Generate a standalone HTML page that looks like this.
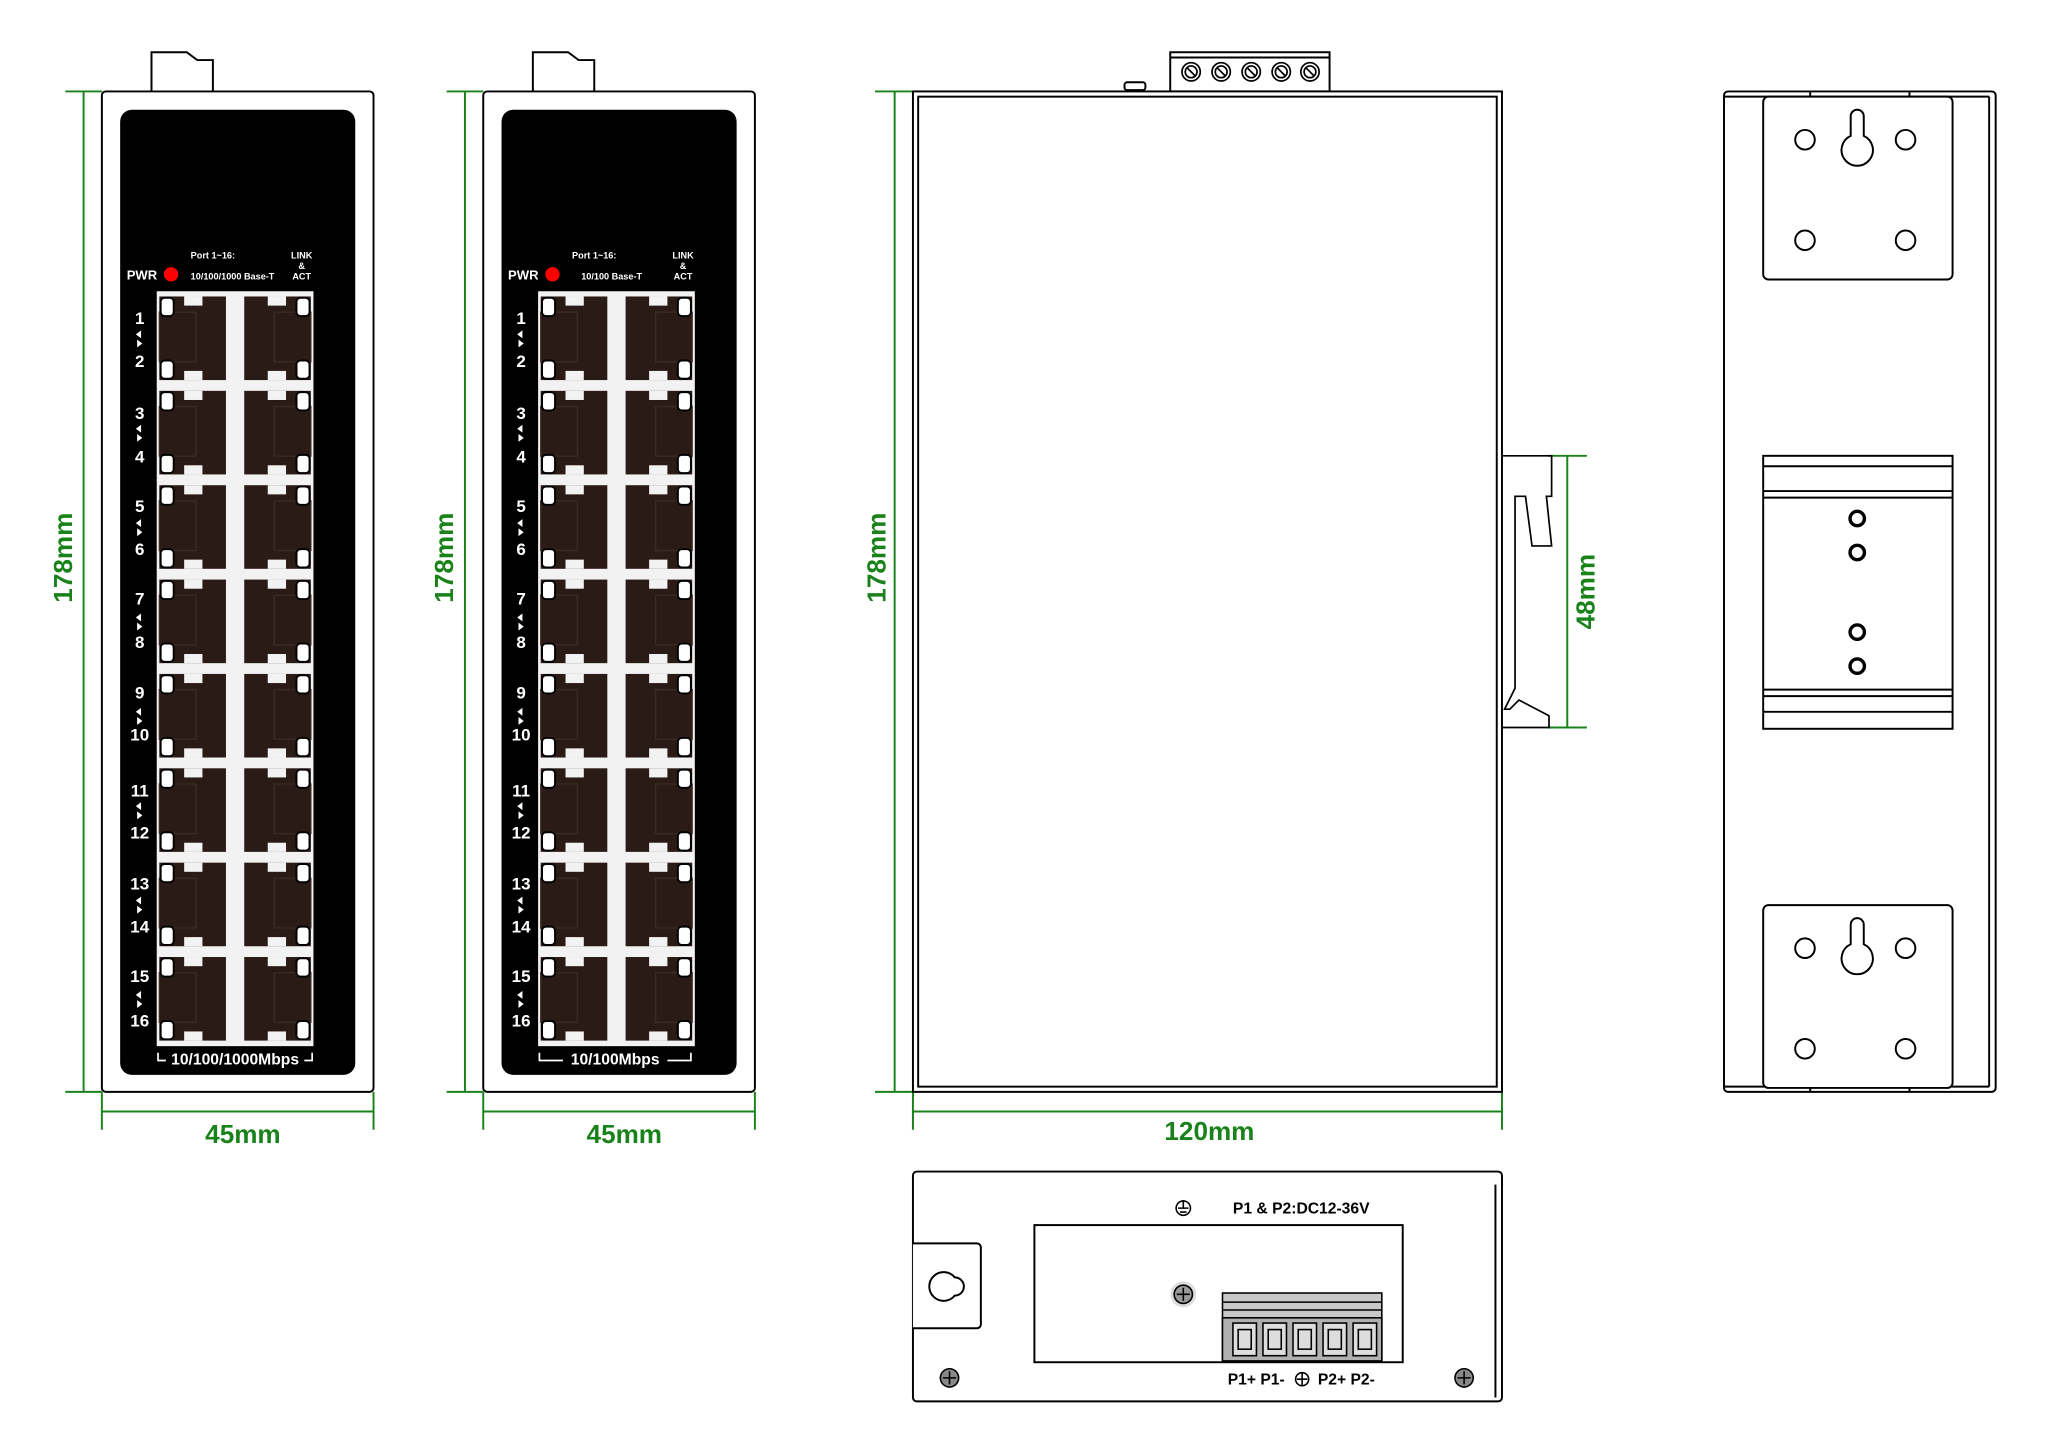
<!DOCTYPE html>
<html><head><meta charset="utf-8"><style>
html,body{margin:0;padding:0;background:#fff}
svg{display:block}
text{font-family:"Liberation Sans",Arial,sans-serif}
</style></head><body>
<svg width="2048" height="1453" viewBox="0 0 1568 1112.5" preserveAspectRatio="xMinYMin meet" xmlns="http://www.w3.org/2000/svg">
<defs>
<g id="row">
  <rect x="122" y="4" width="51" height="64" fill="#2b1b16"/>
  <rect x="187" y="4" width="51" height="64" fill="#2b1b16"/>
  <rect x="141" y="4" width="14" height="7" fill="#f2f2f2"/>
  <rect x="141" y="61" width="14" height="7" fill="#f2f2f2"/>
  <rect x="205" y="4" width="14" height="7" fill="#f2f2f2"/>
  <rect x="205" y="61" width="14" height="7" fill="#f2f2f2"/>
  <rect x="122" y="16" width="28" height="38" fill="none" stroke="#3d2c26" stroke-width="1"/>
  <rect x="210" y="16" width="28" height="38" fill="none" stroke="#3d2c26" stroke-width="1"/>
  <rect x="123" y="5" width="10" height="14" rx="3" fill="#fff" stroke="#000" stroke-width="1.5"/>
  <rect x="123" y="53" width="10" height="14" rx="3" fill="#fff" stroke="#000" stroke-width="1.5"/>
  <rect x="227" y="5" width="10" height="14" rx="3" fill="#fff" stroke="#000" stroke-width="1.5"/>
  <rect x="227" y="53" width="10" height="14" rx="3" fill="#fff" stroke="#000" stroke-width="1.5"/>
  <path d="M108 30 L104 33 L108 36Z M105 37 L109 40 L105 43Z" fill="#fff"/>
</g>
<g id="panel">
  <path d="M116 70 V40 H143 L151 46 H163 V70" fill="#fff" stroke="#000" stroke-width="1.5"/>
  <rect x="78" y="70" width="208" height="766" rx="3" fill="#fff" stroke="#000" stroke-width="1.5"/>
  <rect x="92" y="84" width="180" height="739" rx="9" fill="#000"/>
  <rect x="120" y="223" width="120" height="578" fill="#f2f2f2"/>
  <circle cx="131" cy="210" r="5.5" fill="#f00"/>
  <text x="97" y="214" font-size="10" font-weight="bold" fill="#fff">PWR</text>
  <text x="146" y="198" font-size="7" font-weight="bold" fill="#fff">Port 1~16:</text>
  <text x="231" y="198" font-size="7" font-weight="bold" fill="#fff" text-anchor="middle">LINK</text>
  <text x="231" y="206" font-size="7" font-weight="bold" fill="#fff" text-anchor="middle">&amp;</text>
  <text x="231" y="214" font-size="7" font-weight="bold" fill="#fff" text-anchor="middle">ACT</text>
  <use href="#row" y="223"/>
  <use href="#row" y="295.25"/>
  <use href="#row" y="367.5"/>
  <use href="#row" y="439.75"/>
  <use href="#row" y="512"/>
  <use href="#row" y="584.25"/>
  <use href="#row" y="656.5"/>
  <use href="#row" y="728.75"/>
  <g font-size="13" font-weight="bold" fill="#fff" text-anchor="middle">
    <text x="107" y="248">1</text><text x="107" y="281">2</text>
    <text x="107" y="321">3</text><text x="107" y="354">4</text>
    <text x="107" y="392">5</text><text x="107" y="425">6</text>
    <text x="107" y="463">7</text><text x="107" y="496">8</text>
    <text x="107" y="535">9</text><text x="107" y="567">10</text>
    <text x="107" y="610">11</text><text x="107" y="642">12</text>
    <text x="107" y="681">13</text><text x="107" y="714">14</text>
    <text x="107" y="752">15</text><text x="107" y="786">16</text>
  </g>
</g>
</defs>

<use href="#panel"/>
<text x="146" y="214" font-size="7" font-weight="bold" fill="#fff">10/100/1000 Base-T</text>
<text x="180" y="815" font-size="12" font-weight="bold" fill="#fff" text-anchor="middle">10/100/1000Mbps</text>
<path d="M121 806 V812 H127 M233 812 H239 V806" stroke="#fff" stroke-width="1.3" fill="none"/>

<use href="#panel" x="292"/>
<text x="445" y="214" font-size="7" font-weight="bold" fill="#fff">10/100 Base-T</text>
<text x="471" y="815" font-size="12" font-weight="bold" fill="#fff" text-anchor="middle">10/100Mbps</text>
<path d="M413 806 V812 H431 M511 812 H529 V806" stroke="#fff" stroke-width="1.3" fill="none"/>

<g stroke="#1a821a" stroke-width="1.5" fill="none">
  <path d="M50 70 H78 M50 836 H78 M64 70 V836"/>
  <path d="M78 836 V865 M286 836 V865 M78 851 H286"/>
  <path d="M342 70 H370 M342 836 H370 M356 70 V836"/>
  <path d="M370 836 V865 M578 836 V865 M370 851 H578"/>
  <path d="M670 70 H699 M670 836 H699 M685 70 V836"/>
  <path d="M699 836 V865 M1150 836 V865 M699 851 H1150"/>
  <path d="M1185 349 H1215 M1185 557 H1215 M1200 349 V557"/>
</g>
<g font-size="20" font-weight="bold" fill="#1a821a" text-anchor="middle">
  <text transform="translate(55,427) rotate(-90)">178mm</text>
  <text transform="translate(347,427) rotate(-90)">178mm</text>
  <text transform="translate(678,427) rotate(-90)">178mm</text>
  <text transform="translate(1221,453) rotate(-90)">48mm</text>
  <text x="186" y="875">45mm</text>
  <text x="478" y="875">45mm</text>
  <text x="926" y="873">120mm</text>
</g>

<g stroke="#000" stroke-width="1.5" fill="#fff">
  <rect x="896" y="40" width="122" height="30"/>
  <line x1="896" y1="44" x2="1018" y2="44"/>
  <rect x="861" y="63" width="16" height="6" rx="2"/>
  <rect x="699" y="70" width="451" height="766"/>
  <rect x="703" y="74" width="443" height="758"/>
</g>
<g stroke="#000" stroke-width="1.3" fill="#fff">
  <circle cx="912" cy="55" r="7"/><circle cx="912" cy="55" r="4.5"/>
  <circle cx="935" cy="55" r="7"/><circle cx="935" cy="55" r="4.5"/>
  <circle cx="958" cy="55" r="7"/><circle cx="958" cy="55" r="4.5"/>
  <circle cx="981" cy="55" r="7"/><circle cx="981" cy="55" r="4.5"/>
  <circle cx="1003" cy="55" r="7"/><circle cx="1003" cy="55" r="4.5"/>
  <path d="M909 52 L915 58 M932 52 L938 58 M955 52 L961 58 M978 52 L984 58 M1000 52 L1006 58"/>
</g>
<path d="M1150 349 H1188 V380 H1184 L1188 418 H1173 L1168 380 H1160 V527 L1152 543 H1156 L1163 536 L1186 548 V557 H1150" fill="none" stroke="#000" stroke-width="1.3"/>

<g stroke="#000" stroke-width="1.5" fill="#fff">
  <rect x="1320" y="70" width="208" height="766" rx="3"/>
  <line x1="1523" y1="74" x2="1523" y2="832"/>
  <path d="M1320 74 H1523 M1320 832 H1523" />
  <line x1="1386" y1="70" x2="1386" y2="74"/><line x1="1462" y1="70" x2="1462" y2="74"/>
  <line x1="1386" y1="832" x2="1386" y2="836"/><line x1="1462" y1="832" x2="1462" y2="836"/>
  <rect x="1350" y="74" width="145" height="140" rx="4"/>
  <rect x="1350" y="693" width="145" height="140" rx="4"/>
  <rect x="1350" y="349" width="145" height="209"/>
  <path d="M1350 357 H1495 M1350 376 H1495 M1350 381 H1495 M1350 528 H1495 M1350 533 H1495 M1350 545 H1495"/>
  <circle cx="1382" cy="107" r="7.5"/><circle cx="1459" cy="107" r="7.5"/>
  <circle cx="1382" cy="184" r="7.5"/><circle cx="1459" cy="184" r="7.5"/>
  <path d="M1417 104 V89 A5 5 0 0 1 1427 89 V104 A12 12 0 1 1 1417 104 Z"/>
  <circle cx="1382" cy="726" r="7.5"/><circle cx="1459" cy="726" r="7.5"/>
  <circle cx="1382" cy="803" r="7.5"/><circle cx="1459" cy="803" r="7.5"/>
  <path d="M1417 723 V708 A5 5 0 0 1 1427 708 V723 A12 12 0 1 1 1417 723 Z"/>
</g>
<g stroke="#000" stroke-width="2.6" fill="none">
  <circle cx="1422" cy="397" r="5.5"/><circle cx="1422" cy="423" r="5.5"/>
  <circle cx="1422" cy="484" r="5.5"/><circle cx="1422" cy="510" r="5.5"/>
</g>

<g stroke="#000" stroke-width="1.5" fill="#fff">
  <rect x="699" y="897" width="451" height="176" rx="3"/>
  <line x1="1145" y1="907" x2="1145" y2="1070"/>
  <path d="M699 952 H748 A3 3 0 0 1 751 955 V1014 A3 3 0 0 1 748 1017 H699"/>
  <rect x="792" y="938" width="282" height="105"/>
  <path d="M731 978 A11 11 0 1 0 731 992 A7 7 0 0 0 731 978Z"/>
</g>
<circle cx="906" cy="991" r="10" fill="#ddd"/>
<g stroke="#000" stroke-width="1.2">
  <circle cx="727" cy="1055" r="7" fill="#888"/><path d="M722 1055 H732 M727 1050 V1060"/>
  <circle cx="1121" cy="1055" r="7" fill="#888"/><path d="M1116 1055 H1126 M1121 1050 V1060"/>
  <circle cx="906" cy="991" r="7" fill="#999"/><path d="M901 991 H911 M906 986 V996"/>
  <circle cx="906" cy="925" r="5.5" fill="#fff"/><path d="M902 925 H910 M903.5 928 H908.5 M906 919 V925"/>
</g>
<g stroke="#000" stroke-width="1.2">
  <rect x="936" y="990" width="122" height="52" fill="#c8c8c8"/>
  <line x1="936" y1="997" x2="1058" y2="997"/>
  <line x1="936" y1="1003" x2="1058" y2="1003"/>
  <rect x="936" y="1009" width="122" height="33" fill="#b0b0b0"/>
  <rect x="944" y="1013" width="18" height="25" fill="#ddd"/>
  <rect x="967" y="1013" width="18" height="25" fill="#ddd"/>
  <rect x="990" y="1013" width="18" height="25" fill="#ddd"/>
  <rect x="1013" y="1013" width="18" height="25" fill="#ddd"/>
  <rect x="1036" y="1013" width="18" height="25" fill="#ddd"/>
  <rect x="948" y="1018" width="10" height="15" fill="none"/>
  <rect x="971" y="1018" width="10" height="15" fill="none"/>
  <rect x="994" y="1018" width="10" height="15" fill="none"/>
  <rect x="1017" y="1018" width="10" height="15" fill="none"/>
  <rect x="1040" y="1018" width="10" height="15" fill="none"/>
</g>
<text x="944" y="929" font-size="12" font-weight="bold">P1 &amp; P2:DC12-36V</text>
<text x="940" y="1060" font-size="12" font-weight="bold">P1+ P1-</text>
<text x="1009" y="1060" font-size="12" font-weight="bold">P2+ P2-</text>
<g stroke="#000" stroke-width="1.2" fill="#fff">
  <circle cx="997" cy="1056" r="5"/><path d="M993 1056 H1001 M997 1051 V1061"/>
</g>
</svg>
</body></html>
